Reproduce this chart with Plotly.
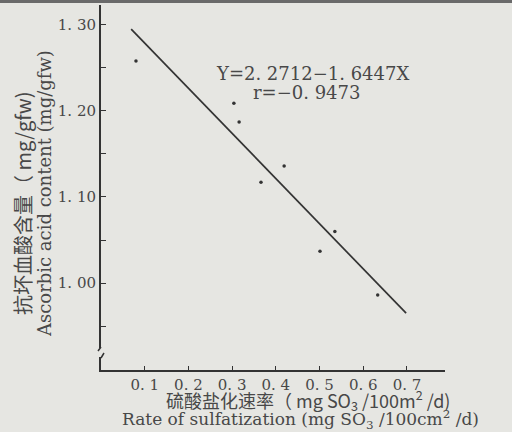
import plotly.graph_objects as go

# Data
rate = [0.080, 0.304, 0.316, 0.366, 0.419, 0.501, 0.535, 0.633]
ascorbic = [1.258, 1.209, 1.187, 1.117, 1.136, 1.037, 1.060, 0.986]
fit_x = [0.069, 0.698]
fit_y = [1.295, 0.965]

y_tickvals = [1.00, 1.10, 1.20, 1.30]
y_ticktext = ["1. 00", "1. 10", "1. 20", "1. 30"]
x_tickvals = [0.1, 0.2, 0.3, 0.4, 0.5, 0.6, 0.7]
x_ticktext = ["0. 1", "0. 2", "0. 3", "0. 4", "0. 5", "0. 6", "0. 7"]

W, H = 512, 432
BG = "#e6e6e2"
INK = "#333333"
TXT = "#484848"
SERIF = "DejaVu Serif, Liberation Serif, serif"
CJK = "Noto Sans CJK SC, DejaVu Serif, serif"

fig = go.Figure()
fig.add_trace(go.Scatter(x=fit_x, y=fit_y, mode="lines",
                         line=dict(color=INK, width=1.7), hoverinfo="skip"))
fig.add_trace(go.Scatter(x=rate, y=ascorbic, mode="markers",
                         marker=dict(color=INK, size=3.5)))

def px(x):
    return x / W

def py(y):
    return 1 - y / H

fig.update_layout(
    width=W, height=H, showlegend=False,
    paper_bgcolor=BG, plot_bgcolor=BG,
    margin=dict(l=0, r=0, t=0, b=0, autoexpand=False),
    font=dict(family=SERIF, color=TXT, size=15),
    xaxis=dict(domain=[px(101), px(445)], range=[0, 0.787], automargin=False,
               tickvals=x_tickvals, ticktext=x_ticktext,
               ticks="inside", ticklen=4, tickcolor=INK,
               showline=True, linecolor=INK, linewidth=2,
               showgrid=False, zeroline=False,
               tickfont=dict(family=SERIF, size=15, color=TXT)),
    yaxis=dict(domain=[py(370), py(5)], range=[0.899, 1.323], automargin=False,
               tickvals=y_tickvals, ticktext=y_ticktext,
               ticks="inside", ticklen=5, tickcolor=INK,
               minor=dict(ticks="inside", ticklen=5, dtick=0.05, tick0=0.95, tickcolor=INK),
               showline=True, linecolor=INK, linewidth=2,
               showgrid=False, zeroline=False,
               tickfont=dict(family=SERIF, size=15, color=TXT)),
)

ann = [
    dict(text="Y=2. 2712−1. 6447X", x=px(214), y=py(73), xanchor="left", yanchor="middle",
         font=dict(family=SERIF, size=18, color=TXT)),
    dict(text="r=−0. 9473", x=px(251), y=py(92), xanchor="left", yanchor="middle",
         font=dict(family=SERIF, size=18, color=TXT)),
    dict(text="硫酸盐化速率（ mg SO<sub>3</sub> /100m<sup>2</sup> /d)", x=px(308), y=py(400),
         xanchor="center", yanchor="middle", font=dict(family=CJK, size=18, color=TXT)),
    dict(text="Rate of sulfatization (mg SO<sub>3</sub> /100cm<sup>2</sup> /d)", x=px(300), y=py(419),
         xanchor="center", yanchor="middle", font=dict(family=SERIF, size=17, color=TXT)),
    dict(text="抗坏血酸含量（ mg/gfw)", x=px(22), y=py(203), textangle=-90,
         xanchor="center", yanchor="middle", font=dict(family=CJK, size=20, color=TXT)),
    dict(text="Ascorbic acid content (mg/gfw)", x=px(44), y=py(194), textangle=-90,
         xanchor="center", yanchor="middle", font=dict(family=SERIF, size=18, color=TXT)),
]
for a in ann:
    a.update(xref="paper", yref="paper", showarrow=False)
fig.update_layout(annotations=ann)

# Decorations: dark top edge of the scan and the axis break mark
fig.add_shape(type="rect", xref="paper", yref="paper", x0=0, x1=1, y0=py(3), y1=1,
              fillcolor="#6a6a6a", line=dict(width=0), layer="above")
fig.add_shape(type="rect", xref="paper", yref="paper", x0=px(97), x1=px(105),
              y0=py(357), y1=py(348), fillcolor=BG, line=dict(width=0), layer="above")
fig.add_shape(type="path", xref="paper", yref="paper",
              path=f"M {px(101)},{py(347)} L {px(98)},{py(351)} M {px(104)},{py(353)} L {px(101)},{py(358)}",
              line=dict(color=INK, width=1.5), layer="above")

fig.write_html("out.html", config={"displayModeBar": False},
               post_script="document.body.style.margin='0';document.body.style.background='%s';" % BG)
